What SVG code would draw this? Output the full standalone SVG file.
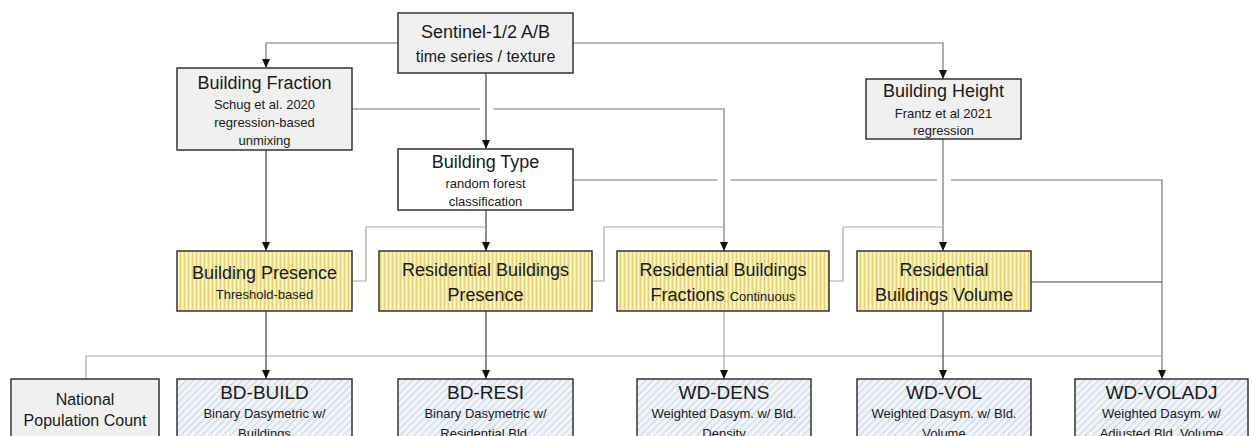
<svg xmlns="http://www.w3.org/2000/svg" width="1253" height="436" viewBox="0 0 1253 436">
<defs>
<style>
.box{stroke:#333;stroke-width:1.5}
.gray{fill:#f0f0f0}
.white{fill:#ffffff}
.yel{fill:url(#yellow)}
.blu{fill:url(#blue)}
text{font-family:"Liberation Sans",Arial,sans-serif;fill:#1a1a1a;text-anchor:middle}
.t18{font-size:18px}
.t16{font-size:16px}
.t19{font-size:19px}
.t13{font-size:13px}
.c{fill:none;stroke-width:1.2}
.dark{stroke:#444}
.mid{stroke:#777}
.light{stroke:#aaa}
</style>
<pattern id="yellow" width="4" height="10" patternUnits="userSpaceOnUse">
<rect width="4" height="10" fill="#f2e8a2"/>
<rect x="0" width="1" height="10" fill="#e6d36a"/>
<rect x="2" width="1" height="10" fill="#faf4cf"/>
</pattern>
<pattern id="blue" width="5" height="5" patternUnits="userSpaceOnUse" patternTransform="rotate(45)">
<rect width="5" height="5" fill="#f1f4f9"/>
<rect x="0" width="1.2" height="5" fill="#cdd7e5"/>
</pattern>
<marker id="arr" markerWidth="10" markerHeight="10" refX="5" refY="9" orient="auto-start-reverse" markerUnits="userSpaceOnUse" viewBox="0 0 10 10">
<path d="M1,0 L9,0 L5,9 Z" fill="#111" transform="rotate(-90 5 5)"/>
</marker>
<marker id="ah" markerWidth="10" markerHeight="10" refX="9" refY="5" orient="auto" markerUnits="userSpaceOnUse" viewBox="0 0 10 10">
<path d="M0,1 L9,5 L0,9 Z" fill="#111"/>
</marker>
</defs>

<g id="connectors">
<path class="c mid" d="M398,43 H266 V68" marker-end="url(#ah)"/>
<path class="c mid" d="M573,43 H943 V79" marker-end="url(#ah)"/>
<path class="c dark" d="M486,73 V149" marker-end="url(#ah)"/>
<path class="c mid" d="M352,109 H480"/>
<path class="c mid" d="M493,109 H724 V251" marker-end="url(#ah)"/>
<path class="c mid" d="M573,180 H717"/>
<path class="c mid" d="M731,180 H937"/>
<path class="c mid" d="M951,180 H1162 V379" marker-end="url(#ah)"/>
<path class="c mid" d="M943,139 V251" marker-end="url(#ah)"/>
<path class="c dark" d="M266,150 V251" marker-end="url(#ah)"/>
<path class="c dark" d="M486,210 V251" marker-end="url(#ah)"/>
<path class="c light" d="M352,281 H366 V227 H486"/>
<path class="c light" d="M592,281 H604 V227 H724"/>
<path class="c light" d="M829,281 H843 V227 H943"/>
<path class="c dark" d="M1031,282 H1162"/>
<path class="c light" d="M86,379 V356 H1162"/>
<path class="c dark" d="M266,311 V379" marker-end="url(#ah)"/>
<path class="c dark" d="M486,311 V379" marker-end="url(#ah)"/>
<path class="c light" d="M724,311 V379" marker-end="url(#ah)"/>
<path class="c dark" d="M943,311 V379" marker-end="url(#ah)"/>
</g>

<g id="sentinel">
<rect class="box gray" x="398" y="13" width="175" height="60"/>
<text class="t18" x="485.5" y="38">Sentinel-1/2 A/B</text>
<text class="t16" x="485.5" y="62">time series / texture</text>
</g>

<g id="building-fraction">
<rect class="box gray" x="177" y="68" width="175" height="82"/>
<text class="t18" x="264.5" y="89">Building Fraction</text>
<text class="t13" x="264.5" y="109">Schug et al. 2020</text>
<text class="t13" x="264.5" y="127">regression-based</text>
<text class="t13" x="264.5" y="145">unmixing</text>
</g>

<g id="building-type">
<rect class="box white" x="398" y="149" width="175" height="61"/>
<text class="t18" x="485.5" y="168">Building Type</text>
<text class="t13" x="485.5" y="188">random forest</text>
<text class="t13" x="485.5" y="206">classification</text>
</g>

<g id="building-height">
<rect class="box gray" x="866" y="79" width="155" height="60"/>
<text class="t18" x="943.5" y="97">Building Height</text>
<text class="t13" x="943.5" y="118">Frantz et al 2021</text>
<text class="t13" x="943.5" y="135">regression</text>
</g>

<g id="building-presence">
<rect class="box yel" x="177" y="251" width="175" height="60"/>
<text class="t18" x="264.5" y="279">Building Presence</text>
<text class="t13" x="264.5" y="299">Threshold-based</text>
</g>

<g id="res-presence">
<rect class="box yel" x="379" y="251" width="213" height="60"/>
<text class="t18" x="485.5" y="276">Residential Buildings</text>
<text class="t18" x="485.5" y="301">Presence</text>
</g>

<g id="res-fractions">
<rect class="box yel" x="617" y="251" width="212" height="60"/>
<text class="t18" x="723" y="276">Residential Buildings</text>
<text class="t18" x="723" y="301">Fractions <tspan class="t13">Continuous</tspan></text>
</g>

<g id="res-volume">
<rect class="box yel" x="857" y="251" width="174" height="60"/>
<text class="t18" x="944" y="276">Residential</text>
<text class="t18" x="944" y="301">Buildings Volume</text>
</g>

<g id="national">
<rect class="box gray" x="11" y="379" width="148" height="80"/>
<text class="t16" x="85" y="405">National</text>
<text class="t16" x="85" y="426">Population Count</text>
</g>

<g id="bd-build">
<rect class="box blu" x="177" y="379" width="175" height="80"/>
<text class="t19" x="264.5" y="399">BD-BUILD</text>
<text class="t13" x="264.5" y="418">Binary Dasymetric w/</text>
<text class="t13" x="264.5" y="438">Buildings</text>
</g>

<g id="bd-resi">
<rect class="box blu" x="398" y="379" width="175" height="80"/>
<text class="t19" x="485.5" y="399">BD-RESI</text>
<text class="t13" x="485.5" y="418">Binary Dasymetric w/</text>
<text class="t13" x="485.5" y="438">Residential Bld.</text>
</g>

<g id="wd-dens">
<rect class="box blu" x="637" y="379" width="174" height="80"/>
<text class="t19" x="724" y="399">WD-DENS</text>
<text class="t13" x="724" y="418">Weighted Dasym. w/ Bld.</text>
<text class="t13" x="724" y="438">Density</text>
</g>

<g id="wd-vol">
<rect class="box blu" x="857" y="379" width="174" height="80"/>
<text class="t19" x="944" y="399">WD-VOL</text>
<text class="t13" x="944" y="418">Weighted Dasym. w/ Bld.</text>
<text class="t13" x="944" y="438">Volume</text>
</g>

<g id="wd-voladj">
<rect class="box blu" x="1075" y="379" width="173" height="80"/>
<text class="t19" x="1161.5" y="399">WD-VOLADJ</text>
<text class="t13" x="1161.5" y="418">Weighted Dasym. w/</text>
<text class="t13" x="1161.5" y="438">Adjusted Bld. Volume</text>
</g>
</svg>
